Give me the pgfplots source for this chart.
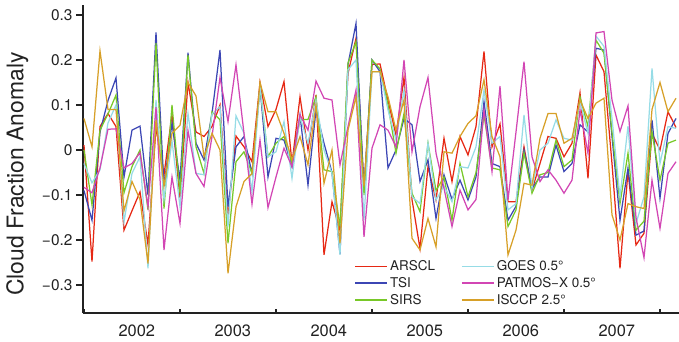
\documentclass[border=0pt]{standalone}
\usepackage{fontspec}
\setmainfont{TeX Gyre Heros}
\usepackage{pgfplots}
\usepackage{pgfplotstable}
\pgfplotsset{compat=1.18}
\definecolor{cARSCL}{HTML}{E62814}
\definecolor{cTSI}{HTML}{3C46B4}
\definecolor{cSIRS}{HTML}{78C828}
\definecolor{cGOES}{HTML}{96DCE6}
\definecolor{cPAT}{HTML}{D246B4}
\definecolor{cISC}{HTML}{D7A028}
\definecolor{axcol}{HTML}{222222}

\pgfplotstableread{
k r b g c m o
0 0.011 -0.09 0.0 -0.03 -0.083 0.07
1 -0.248 -0.156 -0.122 -0.073 -0.095 0.007
2 0.052 0.04 0.044 -0.044 -0.04 0.22
3 0.081 0.11 0.08 0.06 0.046 0.09
4 0.052 0.16 0.122 0.1 0.047 0.09
5 -0.178 -0.06 -0.095 -0.16 -0.04 -0.135
6 -0.135 0.044 -0.037 -0.052 -0.03 -0.07
7 -0.093 0.053 0.0 -0.015 -0.006 -0.11
8 -0.21 -0.1 -0.133 -0.263 -0.126 -0.252
9 0.05 0.261 0.237 0.111 0.095 0.067
10 -0.055 -0.08 -0.13 -0.11 -0.222 -0.08
11 0.078 0.06 0.1 0.02 -0.06 0.037
12 -0.107 -0.067 -0.096 -0.126 -0.163 0.055
13 0.15 0.216 0.211 0.081 0.043 0.15
14 0.04 0.015 0.007 -0.052 -0.052 0.12
15 0.03 -0.022 -0.052 -0.055 -0.081 -0.015
16 0.052 0.081 0.085 0.08 0.03 0.037
17 0.1 0.222 0.067 0.096 0.161 0.0
18 -0.148 -0.126 -0.207 -0.17 0.063 -0.274
19 0.031 0.007 -0.026 0.076 0.189 -0.126
20 0.007 0.03 -0.004 0.037 0.037 -0.07
21 -0.026 -0.052 -0.052 -0.093 -0.12 -0.052
22 0.15 0.14 0.14 0.141 0.022 0.15
23 0.052 -0.06 -0.015 -0.015 -0.128 0.085
24 0.09 0.026 0.015 -0.004 -0.06 0.085
25 0.152 0.022 0.03 0.063 0.004 0.037
26 -0.03 -0.037 -0.03 -0.063 -0.037 -0.022
27 0.118 0.078 0.067 0.074 0.078 0.03
28 0.0 -0.078 0.068 0.015 0.044 -0.033
29 0.122 0.089 0.118 0.111 0.153 0.1
30 -0.233 0.015 -0.044 0.0 0.115 -0.074
31 -0.115 -0.05 -0.048 -0.052 0.111 0.0
32 -0.178 -0.231 -0.17 -0.233 -0.033 -0.207
33 0.17 0.19 0.193 0.178 0.052 0.044
34 0.248 0.281 0.24 0.2 0.133 0.118
35 -0.085 -0.09 -0.1 -0.156 -0.193 -0.081
36 0.19 0.2 0.2 0.174 0.004 0.174
37 0.191 0.174 0.18 0.174 0.056 0.174
38 0.111 -0.04 0.1 0.089 0.044 0.118
39 0.033 0.0 -0.007 0.022 0.007 0.044
40 0.161 0.07 0.081 0.133 0.2 0.111
41 -0.11 0.056 -0.096 -0.104 -0.004 -0.196
42 -0.219 -0.07 -0.137 -0.119 0.096 -0.222
43 -0.037 -0.022 0.015 0.015 0.161 -0.152
44 -0.111 -0.152 -0.09 -0.111 -0.007 -0.215
45 0.026 -0.055 -0.06 -0.08 -0.085 -0.004
46 -0.07 -0.11 -0.156 -0.115 -0.17 -0.007
47 0.03 -0.067 -0.03 -0.037 -0.089 0.03
48 -0.011 -0.111 -0.104 -0.04 -0.133 0.059
49 0.052 -0.06 -0.05 0.007 -0.11 0.076
50 0.219 0.107 0.078 0.133 0.089 0.156
51 0.007 -0.03 -0.04 0.015 -0.048 0.03
52 0.058 -0.037 -0.044 0.03 0.142 -0.015
53 -0.115 -0.156 -0.17 -0.133 -0.111 -0.233
54 -0.115 -0.125 -0.133 -0.119 0.04 -0.178
55 0.007 0.0 -0.007 0.078 0.196 -0.074
56 -0.089 -0.085 -0.096 -0.085 -0.015 -0.078
57 -0.03 -0.06 -0.055 0.0 -0.07 0.026
58 0.03 -0.06 -0.05 0.015 -0.044 0.081
59 0.026 0.011 0.022 0.067 -0.067 0.081
60 -0.015 -0.048 -0.037 0.026 -0.096 0.015
61 0.015 -0.03 -0.022 0.022 -0.067 0.026
62 0.127 0.056 0.118 0.107 0.089 0.111
63 -0.063 0.04 0.052 0.037 -0.007 0.07
64 0.211 0.226 0.244 0.253 0.26 0.104
65 0.174 0.222 0.215 0.23 0.263 0.115
66 -0.03 0.03 0.04 0.07 0.111 -0.144
67 -0.263 -0.156 -0.119 -0.104 0.041 -0.2
68 -0.048 -0.04 -0.007 0.053 0.098 -0.119
69 -0.211 -0.189 -0.178 -0.163 -0.15 -0.126
70 -0.185 -0.18 -0.158 -0.104 -0.239 -0.13
71 0.037 0.067 0.04 0.181 -0.067 0.09
72 0.0 -0.107 -0.067 -0.03 -0.174 0.15
73 0.085 0.037 0.015 0.052 -0.052 0.085
74 0.05 0.07 0.022 0.048 -0.026 0.115
}\cfdata

\begin{document}
\begin{tikzpicture}
\begin{axis}[
  scale only axis, width=596bp, height=308bp,
  xmin=-0.125, xmax=74.375, ymin=-0.362, ymax=0.322,
  axis lines*=left,
  axis line style={-, line width=1.4pt, axcol},
  tick align=outside, major tick length=7bp,
  tick style={line width=1.2pt, axcol},
  xtick={6.6,18.6,30.6,42.6,54.6,66.6},
  xticklabels={2002,2003,2004,2005,2006,2007},
  xtick style={draw=none},
  ytick={-0.3,-0.2,-0.1,0,0.1,0.2,0.3},
  yticklabels={−0.3,−0.2,−0.1,0,0.1,0.2,0.3},
  ticklabel style={font=\fontsize{15.5}{17}\selectfont, text=axcol},
  xticklabel style={font=\fontsize{16.5}{18}\selectfont, yshift=-1bp},
  ylabel={Cloud Fraction Anomaly},
  ylabel style={font=\fontsize{23}{26}\selectfont, text=axcol, at={(axis description cs:-0.110,0.451)}, anchor=center, rotate=0},
  legend columns=2,
  legend cell align=left,
  legend style={draw=none, fill=none, inner xsep=0pt, inner ysep=0pt,
    at={(axis description cs:0.455,0.1765)}, anchor=north west,
    font=\fontsize{13.5}{15}\selectfont, text=axcol, row sep=1.2bp,
    /tikz/every even column/.append style={column sep=24bp}},
  legend image code/.code={\draw[#1] (0bp,0bp) -- (32bp,0bp);},
  every axis plot/.append style={line width=1.25pt, line join=miter},
  clip=true,
]
\addplot[cARSCL, forget plot] table[x=k, y=r] {\cfdata};
\addplot[cTSI, forget plot] table[x=k, y=b] {\cfdata};
\addplot[cSIRS, forget plot] table[x=k, y=g] {\cfdata};
\addplot[cGOES, forget plot] table[x=k, y=c] {\cfdata};
\addplot[cPAT, forget plot] table[x=k, y=m] {\cfdata};
\addplot[cISC, forget plot] table[x=k, y=o] {\cfdata};
\addlegendimage{cARSCL, line width=1.8pt}
\addlegendentry{ARSCL}
\addlegendimage{cGOES, line width=1.8pt}
\addlegendentry{GOES 0.5°}
\addlegendimage{cTSI, line width=1.8pt}
\addlegendentry{TSI}
\addlegendimage{cPAT, line width=1.8pt}
\addlegendentry{PATMOS−X 0.5°}
\addlegendimage{cSIRS, line width=1.8pt}
\addlegendentry{SIRS}
\addlegendimage{cISC, line width=1.8pt}
\addlegendentry{ISCCP 2.5°}
\end{axis}
\begin{axis}[
  scale only axis, width=596bp, height=308bp,
  xmin=-0.125, xmax=74.375, ymin=-0.362, ymax=0.322,
  axis y line=none, axis x line*=bottom,
  axis line style={-, line width=1.4pt, axcol},
  tick align=inside, major tick length=4bp,
  xtick={0,12,...,72}, xticklabels={},
  tick style={line width=1.2pt, axcol},
]
\end{axis}
\pgfresetboundingbox
\path[use as bounding box] ([xshift=-83bp,yshift=-29bp]current axis.south west) rectangle ([yshift=5bp]current axis.north east);
\end{tikzpicture}
\end{document}
